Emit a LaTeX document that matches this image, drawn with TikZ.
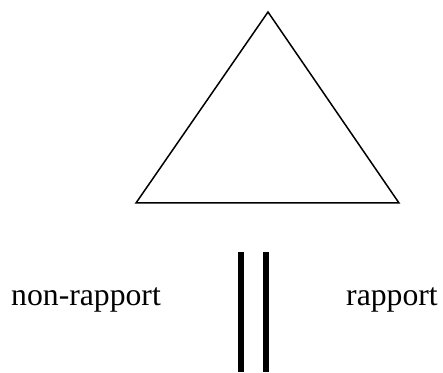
\documentclass[tikz,border=0pt]{standalone}
\usepackage{fontspec}
\setmainfont{Liberation Serif}
\begin{document}
\begin{tikzpicture}[x=1pt,y=1pt,
  label/.style={anchor=base west,inner sep=0pt,font=\fontsize{31.7}{36}\selectfont},
  bar/.style={line width=6pt},
  tri/.style={line width=1.5pt,line join=miter}]
\useasboundingbox (0,0) rectangle (443,372);
\coordinate (apex) at (268,360);
\coordinate (bl) at (136,169);
\coordinate (br) at (399,169);
\draw[tri] (apex) -- (bl) -- (br) -- cycle;
\coordinate (b1t) at (241.3,120);
\coordinate (b1b) at (241.3,0);
\coordinate (b2t) at (265.8,120);
\coordinate (b2b) at (265.8,0);
\draw[bar] (b1t) -- (b1b);
\draw[bar] (b2t) -- (b2b);
\node[label] (nr) at (11,67) {non-rapport};
\node[label] (r) at (346,67) {rapport};
\end{tikzpicture}
\end{document}
